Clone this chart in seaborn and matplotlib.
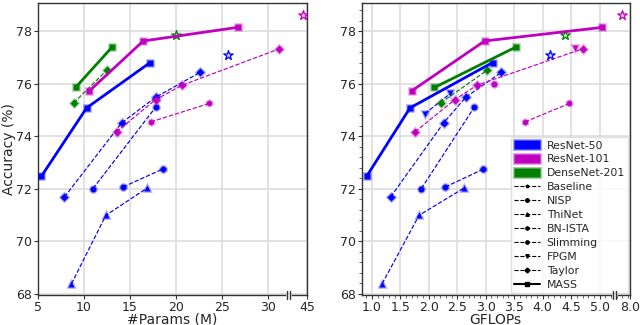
import numpy as np
import pandas as pd
import matplotlib
matplotlib.use('Agg')
import matplotlib.pyplot as plt
from matplotlib.lines import Line2D
from matplotlib.patches import Patch
from matplotlib.ticker import MultipleLocator, AutoMinorLocator
import seaborn as sns

# ---- data ----
# ResNet-50
r50_mass_params = [5.4, 10.3, 17.2]
r50_mass_gflops = [0.91, 1.67, 3.12]
r50_mass_acc = [72.47, 75.07, 76.80]
r50_taylor_params = [7.9, 14.1, 17.8, 22.6]
r50_taylor_gflops = [1.33, 2.26, 2.65, 3.27]
r50_taylor_acc = [71.68, 74.50, 75.48, 76.42]
r50_thinet_params = [8.66, 12.39, 16.88]
r50_thinet_gflops = [1.18, 1.83, 2.62]
r50_thinet_acc = [68.37, 70.98, 72.02]
r50_nisp_params = [11.0, 17.8]
r50_nisp_gflops = [1.87, 2.80]
r50_nisp_acc = [72.00, 75.10]
r50_slim_params = [14.27, 18.55]
r50_slim_gflops = [2.29, 2.96]
r50_slim_acc = [72.06, 72.74]
r50_fpgm_gflops = [1.93, 2.38]
r50_fpgm_acc = [74.85, 75.62]
r50_base_params = [25.6]
r50_base_gflops = [4.13]
r50_base_acc = [77.08]

# ResNet-101
r101_mass_params = [10.6, 16.45, 26.7]
r101_mass_gflops = [1.70, 2.98, 5.05]
r101_mass_acc = [75.72, 77.62, 78.14]
r101_taylor_params = [13.55, 17.8, 20.7, 31.2]
r101_taylor_gflops = [1.76, 2.46, 2.85, 4.70]
r101_taylor_acc = [74.16, 75.39, 75.94, 77.32]
r101_bnista_params = [17.28, 23.6]
r101_bnista_gflops = [3.69, 4.47]
r101_bnista_acc = [74.54, 75.24]
r101_fpgm_gflops = [4.56]
r101_fpgm_acc = [77.34]
r101_nisp_gflops = [3.15]
r101_nisp_acc = [75.97]
r101_base_params = [44.5]
r101_base_gflops = [7.8]
r101_base_acc = [78.61]

# DenseNet-201
d201_mass_params = [9.1, 13.1]
d201_mass_gflops = [2.10, 3.54]
d201_mass_acc = [75.85, 77.40]
d201_taylor_params = [8.9, 12.47]
d201_taylor_gflops = [2.21, 3.02]
d201_taylor_acc = [75.26, 76.50]
d201_base_params = [20.0]
d201_base_gflops = [4.40]
d201_base_acc = [77.86]

nets = ['ResNet-50', 'ResNet-101', 'DenseNet-201']
net_colors = {'ResNet-50': '#0000ff', 'ResNet-101': '#bf00bf', 'DenseNet-201': '#008000'}
methods = ['Baseline', 'NISP', 'ThiNet', 'BN-ISTA', 'Slimming', 'FPGM', 'Taylor', 'MASS']
method_markers = {'Baseline': '*', 'NISP': 'o', 'ThiNet': '^', 'BN-ISTA': 'h',
                  'Slimming': '8', 'FPGM': 'v', 'Taylor': 'D', 'MASS': 's'}

# (net, method, params, gflops, acc) ; None = not shown in that panel
series = [
    ('ResNet-50', 'MASS', r50_mass_params, r50_mass_gflops, r50_mass_acc),
    ('ResNet-50', 'Taylor', r50_taylor_params, r50_taylor_gflops, r50_taylor_acc),
    ('ResNet-50', 'ThiNet', r50_thinet_params, r50_thinet_gflops, r50_thinet_acc),
    ('ResNet-50', 'NISP', r50_nisp_params, r50_nisp_gflops, r50_nisp_acc),
    ('ResNet-50', 'Slimming', r50_slim_params, r50_slim_gflops, r50_slim_acc),
    ('ResNet-50', 'FPGM', None, r50_fpgm_gflops, r50_fpgm_acc),
    ('ResNet-50', 'Baseline', r50_base_params, r50_base_gflops, r50_base_acc),
    ('ResNet-101', 'MASS', r101_mass_params, r101_mass_gflops, r101_mass_acc),
    ('ResNet-101', 'Taylor', r101_taylor_params, r101_taylor_gflops, r101_taylor_acc),
    ('ResNet-101', 'BN-ISTA', r101_bnista_params, r101_bnista_gflops, r101_bnista_acc),
    ('ResNet-101', 'FPGM', None, r101_fpgm_gflops, r101_fpgm_acc),
    ('ResNet-101', 'NISP', None, r101_nisp_gflops, r101_nisp_acc),
    ('ResNet-101', 'Baseline', r101_base_params, r101_base_gflops, r101_base_acc),
    ('DenseNet-201', 'MASS', d201_mass_params, d201_mass_gflops, d201_mass_acc),
    ('DenseNet-201', 'Taylor', d201_taylor_params, d201_taylor_gflops, d201_taylor_acc),
    ('DenseNet-201', 'Baseline', d201_base_params, d201_base_gflops, d201_base_acc),
]

# broken x axes: values past the break get squeezed near the right edge
params_break, params_end, params_label = 33.0, 34.24, 45
gflops_break, gflops_end, gflops_label = 5.3, 5.53, 8.0


def squeeze(v, brk, end, label, k):
    v = np.asarray(v, dtype=float)
    return np.where(v > brk, end - (label - v) * k, v)


sns.set_style('whitegrid')
plt.rcParams['font.family'] = ['DejaVu Sans']

fig = plt.figure(figsize=(6.4, 3.25), dpi=100)
ax1 = fig.add_axes([0.059, 0.092, 0.421, 0.899])
ax2 = fig.add_axes([0.565, 0.092, 0.419, 0.899])


def draw(ax, xcol):
    for net, meth, p, g, acc in series:
        xs = p if xcol == 'params' else g
        if xs is None:
            continue
        if xcol == 'params':
            xs = squeeze(xs, params_break, params_end, params_label, 0.9)
        else:
            xs = squeeze(xs, gflops_break, gflops_end, gflops_label, 0.65)
        df = pd.DataFrame({'x': xs, 'acc': acc})
        c = net_colors[net]
        halo = matplotlib.colors.to_rgba(c, 0.35)
        if meth == 'Baseline':
            sns.scatterplot(data=df, x='x', y='acc', ax=ax, marker='*', s=50,
                            facecolor=matplotlib.colors.to_rgba(c, 0.2),
                            edgecolor=c, linewidth=0.9, zorder=3, legend=False)
            continue
        if meth == 'MASS':
            kw = dict(lw=2.0, ls='-', markersize=5, markeredgewidth=1.8, zorder=4)
        else:
            kw = dict(lw=0.85, ls='--', markersize=4.3, markeredgewidth=1.8, zorder=3)
        sns.lineplot(data=df, x='x', y='acc', ax=ax, color=c, sort=False,
                     marker=method_markers[meth], markerfacecolor=c,
                     markeredgecolor=halo, legend=False, **kw)


draw(ax1, 'params')
draw(ax2, 'gflops')

for ax in (ax1, ax2):
    ax.set_ylim(67.94, 79.07)
    ax.set_yticks([68, 70, 72, 74, 76, 78])
    ax.grid(True, color='#dddddd', lw=1.2)
    ax.tick_params(axis='both', which='major', labelsize=9, length=3, width=0.8,
                   color='0.2', pad=1.2, left=True, bottom=True)
    for s in ax.spines.values():
        s.set_color('0.2')
        s.set_linewidth(1.0)
    ax.set_ylabel('')

ax1.set_xlim(5, params_end)
ax1.set_xticks([5, 10, 15, 20, 25, 30, params_end])
ax1.set_xticklabels(['5', '10', '15', '20', '25', '30', '45'])
ax1.set_xlabel('#Params (M)', fontsize=10, labelpad=-1)
ax1.set_ylabel('Accuracy (%)', fontsize=10, labelpad=0)

ax2.set_xlim(0.82, gflops_end)
ax2.set_xticks([1.0, 1.5, 2.0, 2.5, 3.0, 3.5, 4.0, 4.5, 5.0, gflops_end])
ax2.set_xticklabels(['1.0', '1.5', '2.0', '2.5', '3.0', '3.5', '4.0', '4.5', '5.0', '8.0'])
ax2.xaxis.set_minor_locator(MultipleLocator(0.1))
ax2.yaxis.set_minor_locator(AutoMinorLocator(5))
ax2.tick_params(axis='both', which='minor', length=2, width=0.6, color='0.3',
                left=True, bottom=True)
ax2.set_xlabel('GFLOPs', fontsize=10, labelpad=-1)

# axis break marks "||"
for ax, pos, gap in ((ax1, 32.07, 0.33), (ax2, 5.23, 0.055)):
    tr = ax.get_xaxis_transform()
    ax.plot([pos, pos + gap], [0, 0], color='white', lw=2, transform=tr,
            clip_on=False, zorder=6)
    for xx in (pos, pos + gap):
        ax.plot([xx, xx], [-0.015, 0.015], color='0.2', lw=1.0, transform=tr,
                clip_on=False, zorder=7)

# legend
handles = []
for net in nets:
    c = net_colors[net]
    handles.append(Patch(facecolor=c, edgecolor=matplotlib.colors.to_rgba(c, 0.4),
                         linewidth=2, label=net))
for meth in methods:
    ls = '-' if meth == 'MASS' else '--'
    lw = 1.5 if meth == 'MASS' else 0.8
    handles.append(Line2D([], [], color='k', ls=ls, lw=lw, marker=method_markers[meth],
                          markersize=2.5, label=meth))
leg = ax2.legend(handles=handles, loc='lower right', fontsize=7.8, labelspacing=0.36,
                 handlelength=2.4, handleheight=0.85, borderaxespad=0.15,
                 frameon=True, framealpha=0.8, edgecolor='0.85', borderpad=0.3,
                 handletextpad=0.6)

fig.savefig('out.png', dpi=100)
